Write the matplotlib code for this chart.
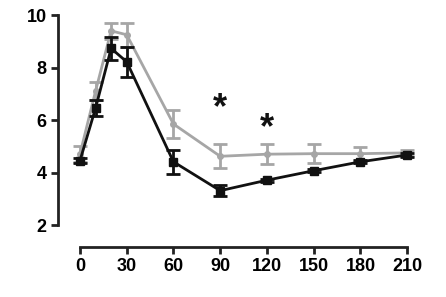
import matplotlib
matplotlib.use("Agg")
import matplotlib.pyplot as plt

x = [0, 10, 20, 30, 60, 90, 120, 150, 180, 210]
black_mean = [4.45, 6.45, 8.73, 8.22, 4.41, 3.31, 3.71, 4.07, 4.41, 4.67]
black_err = [0.1, 0.3, 0.44, 0.57, 0.45, 0.2, 0.06, 0.06, 0.06, 0.06]
gray_mean = [4.7, 7.1, 9.4, 9.25, 5.85, 4.62, 4.7, 4.72, 4.72, 4.75]
gray_err = [0.3, 0.35, 0.3, 0.46, 0.55, 0.45, 0.38, 0.36, 0.27, 0.1]
star_x = [90, 120]
star_y = [6.7, 5.94]
xticks = [0, 30, 60, 90, 120, 150, 180, 210]
yticks = [2, 4, 6, 8, 10]

plt.rcParams['font.family'] = ['Liberation Sans', 'DejaVu Sans']
fig = plt.figure(figsize=(4.46, 2.97), dpi=100)
ax = fig.add_axes([0.130, 0.168, 0.812, 0.798])

ax.errorbar(x, gray_mean, yerr=gray_err, color='#a6a6a6', lw=2, marker='o', ms=4,
            capsize=5, capthick=2, elinewidth=2, zorder=2)
ax.errorbar(x, black_mean, yerr=black_err, color='#111111', lw=2, marker='s', ms=6,
            capsize=5, capthick=2, elinewidth=2, zorder=3)
for sx, sy in zip(star_x, star_y):
    ax.annotate('*', xy=(sx, sy), xytext=(0, -5), textcoords='offset points',
                ha='center', va='center', fontsize=26, fontweight='bold', color='#111111')

ax.set_xlim(-14.1, 218.3)
ax.set_ylim(1.16, 10.19)
ax.spines['top'].set_visible(False)
ax.spines['right'].set_visible(False)
ax.spines['left'].set_bounds(2, 10)
ax.spines['bottom'].set_bounds(0, 210)
for s in ('left', 'bottom'):
    ax.spines[s].set_linewidth(2)
    ax.spines[s].set_color('#222222')
ax.set_xticks(xticks)
ax.set_yticks(yticks)
ax.tick_params(width=2, length=5, labelsize=13, color='#222222', pad=3)
for lab in ax.get_xticklabels() + ax.get_yticklabels():
    lab.set_fontweight('bold')

fig.savefig('out.png', dpi=100)
